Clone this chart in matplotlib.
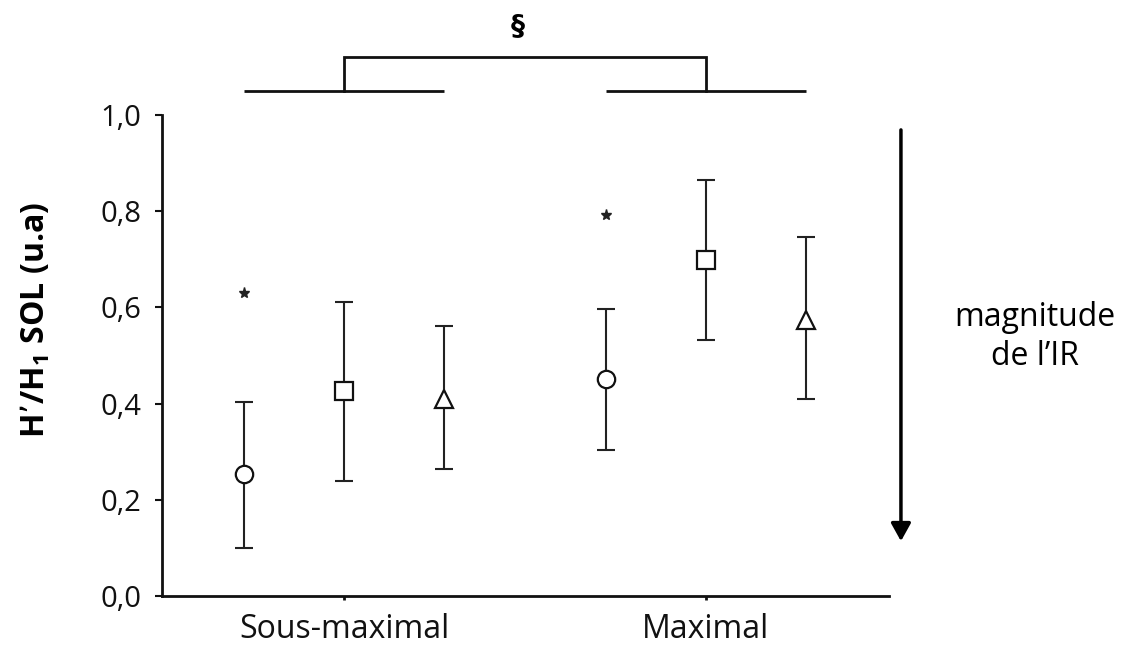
import matplotlib
matplotlib.use("Agg")
import matplotlib.pyplot as plt
import numpy as np

plt.rcParams['font.family'] = ['Open Sans', 'DejaVu Sans']

categories = ["Sous-maximal", "Maximal"]
conditions = ["circle", "square", "triangle"]
means = {
    "circle":   [0.254, 0.451],
    "square":   [0.426, 0.699],
    "triangle": [0.410, 0.574],
}
upper = {
    "circle":   [0.404, 0.597],
    "square":   [0.612, 0.864],
    "triangle": [0.561, 0.746],
}
lower = {
    "circle":   [0.100, 0.304],
    "square":   [0.240, 0.533],
    "triangle": [0.265, 0.410],
}
star_values = [0.630, 0.792]
yticks = [0.0, 0.2, 0.4, 0.6, 0.8, 1.0]
ytick_labels = ["0,0", "0,2", "0,4", "0,6", "0,8", "1,0"]

markers = {"circle": "o", "square": "s", "triangle": "^"}
offsets = {"circle": -0.276, "square": 0.0, "triangle": 0.276}

fig = plt.figure(figsize=(11.31, 6.51), dpi=100)
ax = fig.add_axes([162/1131, 1-596/651, (889-162)/1131, (596-115)/651])

xc = np.arange(len(categories))
for c in conditions:
    x = xc + offsets[c]
    m = np.array(means[c])
    err = [m - np.array(lower[c]), np.array(upper[c]) - m]
    ax.errorbar(x, m, yerr=err, fmt='none', ecolor='#222222', elinewidth=1.5,
                capsize=6.5, capthick=1.5, zorder=2)
    ax.plot(x, m, linestyle='none', marker=markers[c], markersize=12.5,
            markerfacecolor='white', markeredgecolor='#111111', markeredgewidth=1.6, zorder=3)

ax.plot(xc + offsets["circle"], star_values, linestyle='none', marker='*', markersize=8,
        color='#222222', zorder=3)

ax.set_xlim(-0.503, 1.506)
ax.set_ylim(0, 1.0)
ax.set_yticks(yticks)
ax.set_yticklabels(ytick_labels, fontsize=21)
ax.set_xticks(xc)
ax.set_xticklabels(categories, fontsize=23)
for s in ['top', 'right']:
    ax.spines[s].set_visible(False)
for s in ['left', 'bottom']:
    ax.spines[s].set_linewidth(2.0)
    ax.spines[s].set_color('#111111')
ax.tick_params(axis='y', direction='out', length=5, width=1.5, pad=10, colors='#111111')
ax.tick_params(axis='x', direction='out', length=3, width=2, pad=9, colors='#111111')
ax.set_ylabel("H’/H$_\\mathregular{1}$ SOL (u.a)", fontsize=23, fontweight='bold')
ax.yaxis.set_label_coords(-0.151, 0.574)

# bracket above
by = 1.05
bt = 1.12
for i in range(len(categories)):
    ax.plot([xc[i] + offsets["circle"], xc[i] + offsets["triangle"]], [by, by],
            color='#111111', lw=2, clip_on=False, solid_capstyle='butt')
ax.plot([xc[0], xc[0], xc[1], xc[1]], [by, bt, bt, by], color='#111111', lw=2,
        clip_on=False, solid_joinstyle='miter')
ax.text(0.48, 1.185, "§", ha='center', va='center', fontsize=20, fontweight='bold',
        family=['DejaVu Sans'], clip_on=False)

# arrow
ax.annotate("", xy=(1.539, 0.114), xytext=(1.539, 0.969),
            arrowprops=dict(arrowstyle='-|>,head_width=0.25,head_length=0.45', color='black',
                            lw=2.5, mutation_scale=24, shrinkA=0, shrinkB=0),
            annotation_clip=False)
ax.text(1.909, 0.538, "magnitude\nde l’IR", ha='center', va='center', fontsize=23,
        linespacing=1.25, clip_on=False)

fig.savefig("out.png", dpi=100)
